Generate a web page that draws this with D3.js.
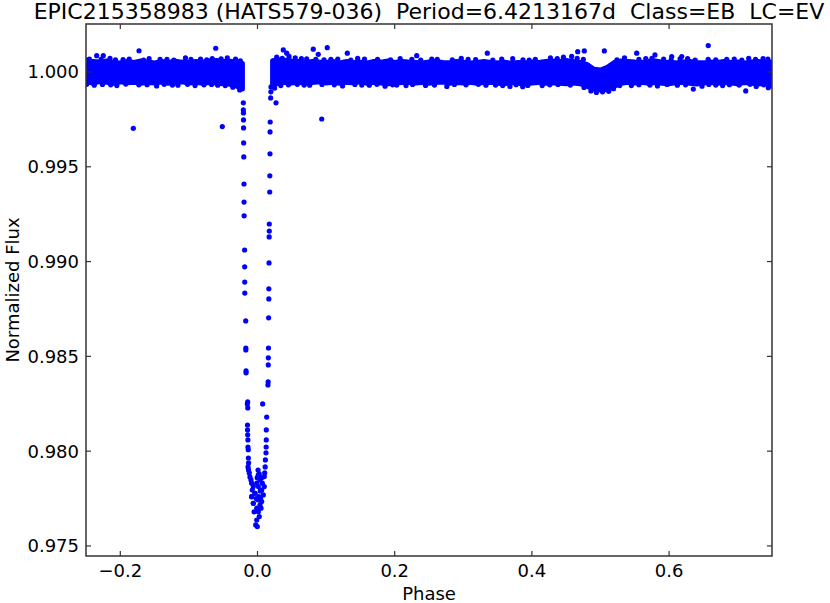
<!DOCTYPE html>
<html lang="en">
  <head>
    <meta charset="utf-8" />
    <meta name="viewport" content="width=device-width, initial-scale=1.0" />
    <script src="https://cdn.jsdelivr.net/npm/d3@7/dist/d3.min.js"></script>
    <title>EPIC215358983 phased light curve</title>
    <style>
      body {
        margin: 0;
        background: #fff;
      }
      text {
        font-family: "DejaVu Sans", sans-serif;
        fill: #000;
      }
      .title {
        font-size: 22px;
        white-space: pre;
      }
      .tick-label,
      .axis-label {
        font-size: 18px;
      }
      .frame {
        fill: none;
        stroke: #333;
        stroke-width: 1.5;
      }
      .tick {
        stroke: #333;
        stroke-width: 1.2;
      }
      .band {
        fill: #0000ff;
        stroke: #0000ff;
        stroke-width: 5;
        stroke-linejoin: round;
      }
      .pt {
        fill: #0000ff;
      }
    </style>
  </head>
  <body>
    <div id="container"></div>

    <script>
      const titleText = "EPIC215358983 (HATS579-036)  Period=6.4213167d  Class=EB  LC=EV";
      const xLabel = "Phase";
      const yLabel = "Normalized Flux";

      const xTicks = [-0.2, 0.0, 0.2, 0.4, 0.6];
      const xTickLabels = ["\u22120.2", "0.0", "0.2", "0.4", "0.6"];
      const yTicks = [0.975, 0.98, 0.985, 0.99, 0.995, 1.0];
      const yTickLabels = ["0.975", "0.980", "0.985", "0.990", "0.995", "1.000"];

      // out-of-eclipse band, read as upper / lower edge of the dense cloud
      const bandPhase = [
        -0.25, -0.24, -0.23, -0.22, -0.21, -0.2, -0.19, -0.18, -0.17, -0.16, -0.15, -0.14, -0.13, -0.12, -0.11, -0.1,
        -0.09, -0.08, -0.07, -0.06, -0.05, -0.04, -0.03, -0.022,
        0.022, 0.03, 0.04, 0.05, 0.06, 0.07, 0.08, 0.09, 0.1, 0.11, 0.12, 0.13, 0.14, 0.15, 0.16, 0.17, 0.18, 0.19,
        0.2, 0.21, 0.22, 0.23, 0.24, 0.25, 0.26, 0.27, 0.28, 0.29, 0.3, 0.31, 0.32, 0.33, 0.34, 0.35, 0.36, 0.37,
        0.38, 0.39, 0.4, 0.41, 0.42, 0.43, 0.44, 0.45, 0.46, 0.47, 0.48, 0.49, 0.5, 0.51, 0.52, 0.53, 0.54, 0.55,
        0.56, 0.57, 0.58, 0.59, 0.6, 0.61, 0.62, 0.63, 0.64, 0.65, 0.66, 0.67, 0.68, 0.69, 0.7, 0.71, 0.72, 0.73,
        0.74, 0.75,
      ];
      const bandHigh = [
        1.00048, 1.00055, 1.00052, 1.00058, 1.0005, 1.00047, 1.00055, 1.0005, 1.00058, 1.00052, 1.00048, 1.00055,
        1.0005, 1.00057, 1.00052, 1.0005, 1.00055, 1.00052, 1.00058, 1.0006, 1.00055, 1.00057, 1.00053, 1.00045,
        1.0006, 1.00065, 1.00062, 1.00058, 1.00055, 1.0005, 1.00055, 1.00052, 1.0005, 1.00055, 1.00048, 1.00055,
        1.0005, 1.00052, 1.00047, 1.00055, 1.00052, 1.00058, 1.0005, 1.00055, 1.00052, 1.0005, 1.00048, 1.00052,
        1.00055, 1.0005, 1.00048, 1.00055, 1.00052, 1.00047, 1.0005, 1.00055, 1.0005, 1.00048, 1.00052, 1.00046,
        1.0005, 1.00048, 1.00052, 1.0005, 1.00055, 1.00058, 1.00055, 1.0006, 1.00055, 1.0005, 1.0004, 1.00015,
        1.0001, 1.00025, 1.0005, 1.00058, 1.00055, 1.00052, 1.0005, 1.00055, 1.00058, 1.00052, 1.0005, 1.00048,
        1.00052, 1.00055, 1.0005, 1.00048, 1.00052, 1.0005, 1.00055, 1.0005, 1.00053, 1.00048, 1.00052, 1.00055,
        1.0005, 1.00052,
      ];
      const bandLow = [
        0.99948, 0.99942, 0.9995, 0.99945, 0.9994, 0.99948, 0.99943, 0.99946, 0.9994, 0.99945, 0.99942, 0.99947,
        0.9994, 0.99945, 0.99948, 0.99942, 0.99945, 0.9994, 0.99944, 0.99942, 0.99938, 0.99935, 0.99925, 0.9991,
        0.9993, 0.9994, 0.99945, 0.99942, 0.99946, 0.9994, 0.99945, 0.99948, 0.99942, 0.99946, 0.9994, 0.99945,
        0.99943, 0.99948, 0.9994, 0.99945, 0.99942, 0.99938, 0.9994, 0.99944, 0.99946, 0.99942, 0.99945, 0.9994,
        0.99944, 0.99947, 0.99941, 0.99945, 0.99942, 0.99945, 0.9994, 0.99944, 0.99946, 0.99941, 0.99938, 0.99944,
        0.9994, 0.99937, 0.99942, 0.99945, 0.9994, 0.99943, 0.9994, 0.99938, 0.99942, 0.99938, 0.99925, 0.9991,
        0.99905, 0.99908, 0.99925, 0.9994, 0.99945, 0.99942, 0.99946, 0.9994, 0.99944, 0.9994, 0.99938, 0.99944,
        0.99946, 0.9994, 0.99936, 0.99942, 0.99945, 0.9994, 0.99944, 0.99942, 0.99938, 0.99944, 0.9994, 0.99936,
        0.9994, 0.99938,
      ];

      // single points sticking out above the band
      const upperEdgePoints = [
        [-0.248, 1.00062], [-0.245, 1.00068], [-0.228, 1.00066], [-0.215, 1.00072], [-0.207, 1.00064],
        [-0.196, 1.00065], [-0.187, 1.00068], [-0.166, 1.00063], [-0.158, 1.0007], [-0.142, 1.00067],
        [-0.132, 1.00066], [-0.122, 1.00062], [-0.105, 1.00074], [-0.097, 1.00066], [-0.083, 1.00068],
        [-0.074, 1.00064], [-0.066, 1.00071], [-0.053, 1.00069], [-0.044, 1.00075], [-0.032, 1.00068],
        [-0.025, 1.00058], [0.028, 1.00078], [0.036, 1.00072], [0.046, 1.00082], [0.055, 1.00075], [0.064, 1.0007],
        [0.085, 1.00066], [0.097, 1.00064], [0.107, 1.00067], [0.117, 1.00068], [0.136, 1.00063], [0.146, 1.00072],
        [0.156, 1.00068], [0.175, 1.00066], [0.194, 1.00064], [0.208, 1.0007], [0.225, 1.00066], [0.238, 1.00062],
        [0.254, 1.00068], [0.262, 1.00067], [0.284, 1.00064], [0.297, 1.00072], [0.307, 1.00066], [0.318, 1.00065],
        [0.343, 1.00063], [0.356, 1.00068], [0.372, 1.0007], [0.387, 1.00064], [0.396, 1.00062], [0.405, 1.00066],
        [0.427, 1.00074], [0.437, 1.0007], [0.446, 1.00078], [0.458, 1.00082], [0.466, 1.00072], [0.475, 1.00066],
        [0.524, 1.00064], [0.535, 1.00075], [0.556, 1.00067], [0.566, 1.00071], [0.575, 1.00072], [0.592, 1.00068],
        [0.603, 1.00064], [0.616, 1.00069], [0.627, 1.0007], [0.638, 1.00063], [0.657, 1.00067], [0.668, 1.00064],
        [0.684, 1.00066], [0.695, 1.00068], [0.706, 1.00062], [0.716, 1.00072], [0.726, 1.00066], [0.737, 1.0007],
        [0.744, 1.00068],
      ];

      // single points hanging below the band
      const lowerEdgePoints = [
        [-0.249, 0.99935], [-0.238, 0.9993], [-0.226, 0.99934], [-0.214, 0.99932], [-0.205, 0.99928],
        [-0.192, 0.99936], [-0.173, 0.99932], [-0.161, 0.99933], [-0.147, 0.99926], [-0.136, 0.99935],
        [-0.124, 0.99931], [-0.116, 0.9993], [-0.102, 0.99935], [-0.091, 0.99928], [-0.078, 0.99932],
        [-0.067, 0.99934], [-0.058, 0.9993], [-0.047, 0.99928], [-0.036, 0.9992], [-0.026, 0.99905],
        [0.025, 0.99915], [0.034, 0.99928], [0.045, 0.99932], [0.058, 0.99935], [0.068, 0.99931], [0.076, 0.9993],
        [0.094, 0.99934], [0.112, 0.99932], [0.124, 0.99926], [0.142, 0.99934], [0.152, 0.99931], [0.163, 0.9993],
        [0.174, 0.99935], [0.186, 0.99925], [0.197, 0.99932], [0.226, 0.99934], [0.245, 0.99929], [0.258, 0.99931],
        [0.276, 0.99924], [0.287, 0.99934], [0.304, 0.99932], [0.322, 0.99935], [0.333, 0.9993], [0.347, 0.99931],
        [0.368, 0.99924], [0.377, 0.99933], [0.394, 0.99929], [0.415, 0.99928], [0.426, 0.99932], [0.438, 0.99934],
        [0.456, 0.99931], [0.476, 0.99918], [0.486, 0.999], [0.494, 0.99892], [0.503, 0.99895], [0.512, 0.99898],
        [0.519, 0.99912], [0.528, 0.99928], [0.545, 0.99928], [0.556, 0.99933], [0.572, 0.99931], [0.583, 0.99926],
        [0.597, 0.99934], [0.612, 0.9993], [0.624, 0.99932], [0.648, 0.99925], [0.658, 0.99934], [0.668, 0.99931],
        [0.678, 0.99928], [0.688, 0.99933], [0.702, 0.99931], [0.718, 0.99935], [0.727, 0.99924], [0.738, 0.99932],
        [0.748, 0.99926],
      ];

      const outlierPoints = [
        [-0.2344, 1.00086], [-0.2248, 1.00086], [-0.1727, 1.00112], [-0.0609, 1.00125], [0.0376, 1.00116],
        [0.0426, 1.00099], [0.0717, 1.00069], [0.0813, 1.0012], [0.0886, 1.00093], [0.1017, 1.00128],
        [0.1309, 1.00099], [0.2321, 1.00086], [0.335, 1.00099], [0.4668, 1.00107], [0.4764, 1.00111],
        [0.5056, 1.00111], [0.5528, 1.00099], [0.5794, 1.0009], [0.6038, 1.00081], [0.6184, 1.00081],
        [0.6571, 1.00139],
        [0.2029, 0.99931], [0.2165, 0.99928], [0.3574, 0.99928], [0.3866, 0.99922], [0.6353, 0.9991],
        [0.7117, 0.999], [0.7446, 0.99917],
        [-0.181, 0.99703], [-0.0513, 0.99712], [0.0936, 0.99752],
      ];

      const ingressPoints = [
        [-0.0207, 0.99837], [-0.0206, 0.998], [-0.0205, 0.99784], [-0.0204, 0.99747], [-0.0203, 0.99705],
        [-0.0202, 0.99626], [-0.02, 0.99552], [-0.0197, 0.99409], [-0.0196, 0.99314], [-0.0195, 0.99241],
        [-0.0188, 0.99061], [-0.0187, 0.98972], [-0.0186, 0.98892], [-0.0185, 0.98834], [-0.0172, 0.98687],
        [-0.017, 0.98544], [-0.017, 0.98534], [-0.0167, 0.98423], [-0.0167, 0.98413], [-0.0143, 0.9826],
        [-0.0148, 0.98249], [-0.0142, 0.98228], [-0.0146, 0.98138], [-0.0145, 0.98112], [-0.0143, 0.98086],
        [-0.014, 0.98059], [-0.0139, 0.98022], [-0.0135, 0.98008], [-0.0133, 0.97964], [-0.013, 0.97938],
        [-0.0138, 0.97917], [-0.0131, 0.97901], [-0.012, 0.97885], [-0.011, 0.97864], [-0.0095, 0.97848],
        [-0.0085, 0.97831], [-0.0076, 0.97795], [-0.0061, 0.97813], [-0.0085, 0.9776], [-0.0061, 0.97725],
        [-0.0036, 0.97778],
      ];

      const egressPoints = [
        [0.0197, 0.99921], [0.0195, 0.99895], [0.0192, 0.99863], [0.027, 0.99837], [0.0185, 0.99736],
        [0.0183, 0.99684], [0.0182, 0.99568], [0.018, 0.99452], [0.0178, 0.99367], [0.0172, 0.99198],
        [0.0172, 0.99161], [0.017, 0.9913], [0.0168, 0.98993], [0.0165, 0.98856], [0.0165, 0.98803],
        [0.0162, 0.98703], [0.016, 0.98544], [0.0158, 0.98492], [0.0157, 0.98455], [0.0155, 0.98365],
        [0.0152, 0.98349], [0.0075, 0.98249], [0.0134, 0.9818], [0.0128, 0.98112], [0.0128, 0.98059],
        [0.0126, 0.98022], [0.0124, 0.97991], [0.0115, 0.97954], [0.0112, 0.97917], [0.0105, 0.97885],
        [0.0099, 0.97866],
      ];

      const bottomPoints = [
        [0.0012, 0.97875], [0.0036, 0.97848], [-0.0012, 0.97831], [0.0012, 0.97813], [0.0061, 0.97795],
        [0.0085, 0.97769], [-0.0036, 0.97778], [-0.0085, 0.9776], [0.0012, 0.97743], [0.0036, 0.97716],
        [-0.0061, 0.97725], [-0.0012, 0.97699], [0.0012, 0.97681], [0.0026, 0.97655], [-0.0012, 0.97637],
        [-0.0026, 0.97611], [-0.0003, 0.97602], [0.007, 0.97831], [0.0099, 0.97813], [0.0061, 0.97734],
        [0.0051, 0.97699], [0.004, 0.9779], [-0.005, 0.9768], [0.002, 0.9776], [-0.002, 0.9775], [0.0045, 0.9775],
        [0.0008, 0.979], [-0.0005, 0.9786], [0.0025, 0.9788], [0.006, 0.9786],
      ];

      const width = 830;
      const height = 603;
      const plot = { left: 86, right: 772, top: 24, bottom: 556 };

      const x = d3.scaleLinear().domain([-0.25, 0.75]).range([plot.left, plot.right]);
      const y = d3.scaleLinear().domain([0.97447, 1.00253]).range([plot.bottom, plot.top]);

      const svg = d3.select("#container").append("svg").attr("width", width).attr("height", height);

      svg
        .append("clipPath")
        .attr("id", "clip")
        .append("rect")
        .attr("x", plot.left)
        .attr("y", plot.top)
        .attr("width", plot.right - plot.left)
        .attr("height", plot.bottom - plot.top);

      const g = svg.append("g").attr("clip-path", "url(#clip)");

      const band = bandPhase.map((p, i) => ({ phase: p, hi: bandHigh[i], lo: bandLow[i] }));
      const area = d3
        .area()
        .x((d) => x(d.phase))
        .y0((d) => y(d.lo))
        .y1((d) => y(d.hi));

      [band.filter((d) => d.phase < 0), band.filter((d) => d.phase > 0)].forEach((seg) => {
        g.append("path").datum(seg).attr("class", "band").attr("d", area);
      });

      const points = [
        ...upperEdgePoints,
        ...lowerEdgePoints,
        ...outlierPoints,
        ...ingressPoints,
        ...egressPoints,
        ...bottomPoints,
      ];
      g.selectAll("circle.pt")
        .data(points)
        .enter()
        .append("circle")
        .attr("class", "pt")
        .attr("cx", (d) => x(d[0]))
        .attr("cy", (d) => y(d[1]))
        .attr("r", 2.6);

      // frame and inward ticks on all four sides
      svg
        .append("rect")
        .attr("class", "frame")
        .attr("x", plot.left)
        .attr("y", plot.top)
        .attr("width", plot.right - plot.left)
        .attr("height", plot.bottom - plot.top);

      const tickLen = 5;
      xTicks.forEach((t, i) => {
        const px = x(t);
        svg.append("line").attr("class", "tick").attr("x1", px).attr("x2", px).attr("y1", plot.bottom).attr("y2", plot.bottom - tickLen);
        svg.append("line").attr("class", "tick").attr("x1", px).attr("x2", px).attr("y1", plot.top).attr("y2", plot.top + tickLen);
        svg
          .append("text")
          .attr("class", "tick-label")
          .attr("x", px)
          .attr("y", plot.bottom + 21)
          .attr("text-anchor", "middle")
          .text(xTickLabels[i]);
      });

      yTicks.forEach((t, i) => {
        const py = y(t);
        svg.append("line").attr("class", "tick").attr("x1", plot.left).attr("x2", plot.left + tickLen).attr("y1", py).attr("y2", py);
        svg.append("line").attr("class", "tick").attr("x1", plot.right).attr("x2", plot.right - tickLen).attr("y1", py).attr("y2", py);
        svg
          .append("text")
          .attr("class", "tick-label")
          .attr("x", plot.left - 7)
          .attr("y", py)
          .attr("dy", "0.36em")
          .attr("text-anchor", "end")
          .text(yTickLabels[i]);
      });

      svg
        .append("text")
        .attr("class", "title")
        .attr("x", (plot.left + plot.right) / 2)
        .attr("y", 19)
        .attr("text-anchor", "middle")
        .text(titleText);

      svg
        .append("text")
        .attr("class", "axis-label")
        .attr("x", (plot.left + plot.right) / 2)
        .attr("y", 600)
        .attr("text-anchor", "middle")
        .text(xLabel);

      svg
        .append("text")
        .attr("class", "axis-label")
        .attr("transform", `translate(19,${(plot.top + plot.bottom) / 2}) rotate(-90)`)
        .attr("text-anchor", "middle")
        .text(yLabel);
    </script>
  </body>
</html>
